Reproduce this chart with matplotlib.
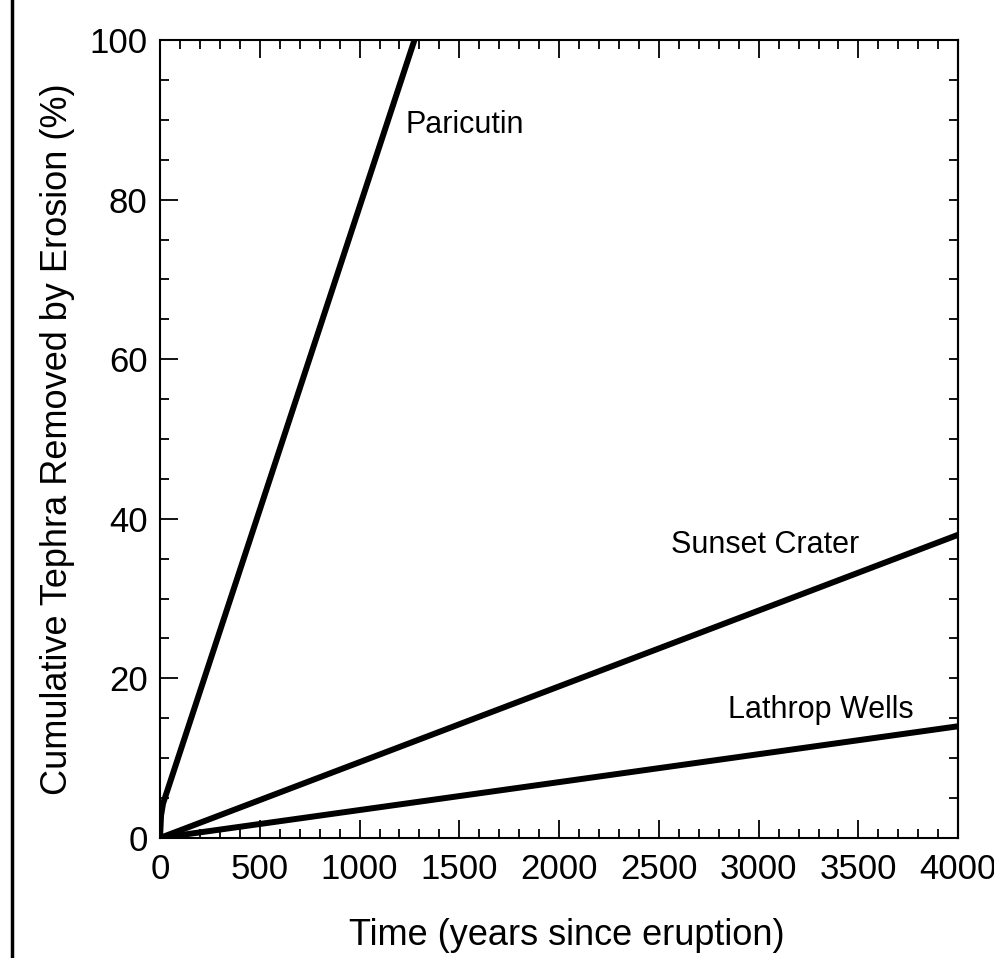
import matplotlib
matplotlib.use("Agg")
import matplotlib.pyplot as plt
from matplotlib.lines import Line2D
from matplotlib.ticker import MultipleLocator

plt.rcParams['font.family'] = ['Liberation Sans', 'DejaVu Sans']

# Data
paricutin_x = [0, 5, 15, 1275]
paricutin_y = [0, 2.8, 4.3, 100]
sunset_x = [0, 4000]
sunset_y = [0, 38]
lathrop_x = [0, 4000]
lathrop_y = [0, 14]

labels = ["Paricutin", "Sunset Crater", "Lathrop Wells"]
label_x = [1230, 2560, 2845]
label_y = [89.3, 36.7, 16.0]

xticks = [0, 500, 1000, 1500, 2000, 2500, 3000, 3500, 4000]
yticks = [0, 20, 40, 60, 80, 100]

fig = plt.figure(figsize=(9.94, 9.58), dpi=100)
ax = fig.add_axes([0.161, 0.1253, 0.803, 0.8329])

lw = 4.3
ax.plot(paricutin_x, paricutin_y, color='black', lw=lw, solid_capstyle='butt')
ax.plot(sunset_x, sunset_y, color='black', lw=lw, solid_capstyle='butt')
ax.plot(lathrop_x, lathrop_y, color='black', lw=lw, solid_capstyle='butt')

for t, x, y in zip(labels, label_x, label_y):
    ax.text(x, y, t, fontsize=22, ha='left', va='center')

ax.set_xlim(0, 4000)
ax.set_ylim(0, 100)
ax.set_xticks(xticks)
ax.set_yticks(yticks)
ax.xaxis.set_minor_locator(MultipleLocator(100))
ax.yaxis.set_minor_locator(MultipleLocator(5))
ax.tick_params(which='both', direction='in', top=True, right=True, width=1.3, labelsize=25)
ax.tick_params(which='major', length=13)
ax.tick_params(which='minor', length=6.5)
ax.tick_params(axis='y', which='major', right=False, pad=9)
ax.tick_params(axis='x', which='major', pad=11)
for s in ax.spines.values():
    s.set_linewidth(1.5)

ax.set_xlabel("Time (years since eruption)", fontsize=26)
ax.set_ylabel("Cumulative Tephra Removed by Erosion (%)", fontsize=26)
ax.xaxis.set_label_coords(0.51, -0.100)
ax.yaxis.set_label_coords(-0.106, 0.5)

# right side major ticks shown as short ticks like minors
ax2 = ax.secondary_yaxis('right')
ax2.set_yticks(yticks)
ax2.tick_params(direction='in', length=6.5, width=1.3, labelright=False)
ax2.spines['right'].set_linewidth(1.5)

fig.add_artist(Line2D([0.0121, 0.0121], [0, 1], color='black', lw=2.5, transform=fig.transFigure))

fig.savefig("out.png", dpi=100)
